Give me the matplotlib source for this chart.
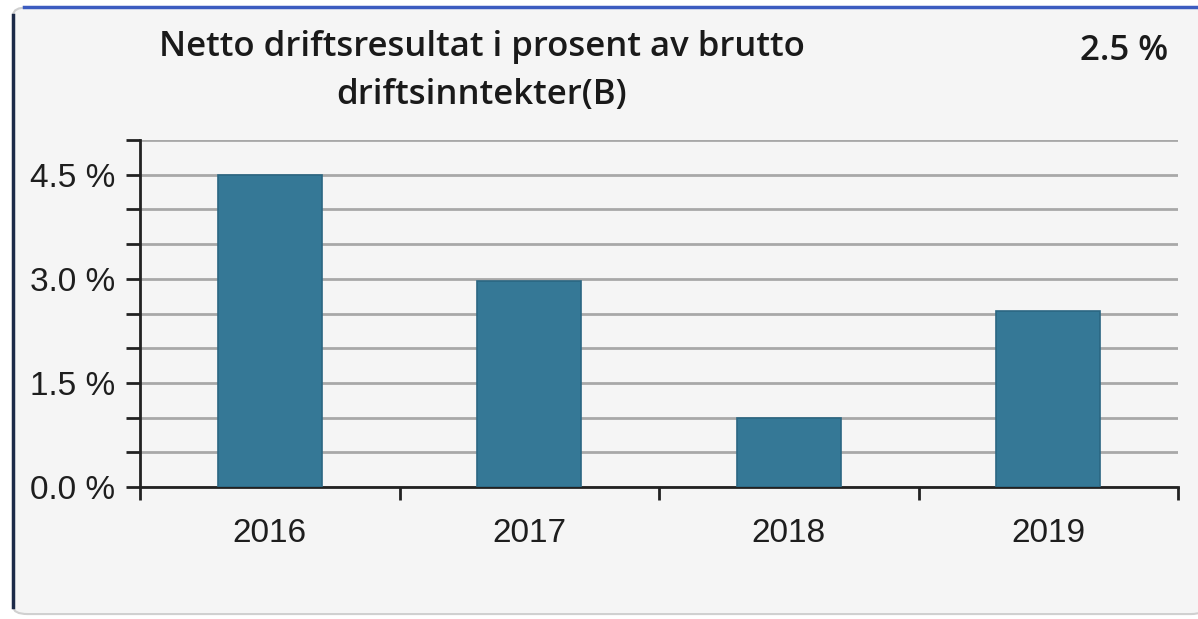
import matplotlib
matplotlib.use("Agg")
import matplotlib.pyplot as plt
from matplotlib.patches import FancyBboxPatch
from matplotlib.lines import Line2D
from matplotlib.ticker import MultipleLocator, FuncFormatter

years = ["2016", "2017", "2018", "2019"]
values = [4.5, 2.97, 0.99, 2.53]
title = "Netto driftsresultat i prosent av brutto\ndriftsinntekter(B)"
latest = "2.5 %"

BG = "#f5f5f5"
BAR = "#357896"

fig = plt.figure(figsize=(11.98, 6.19), dpi=100)
fig.patch.set_facecolor("white")
# panel with rounded corners; blue top edge, dark left edge
panel = FancyBboxPatch((0.011, 0.008), 0.995, 0.98, boxstyle="round,pad=0,rounding_size=0.012",
                       transform=fig.transFigure, facecolor=BG, edgecolor="#d0d0d0", lw=1.5,
                       zorder=-5)
fig.patches.append(panel)
fig.lines.append(Line2D([0.02, 1.0], [0.988, 0.988], transform=fig.transFigure,
                        color="#3c5cc0", lw=2.5, zorder=-4))
fig.lines.append(Line2D([0.011, 0.011], [0.02, 0.975], transform=fig.transFigure,
                        color="#1c2a48", lw=2.5, zorder=-4))

ax = fig.add_axes([0.1169, 0.2132, 0.8664, 0.5606])
ax.set_facecolor(BG)
x = range(len(years))
ax.bar(x, values, width=0.4, color=BAR, edgecolor="#2b6682", lw=1.2, zorder=3)
ax.set_xlim(-0.5, len(years) - 0.5)
ax.set_ylim(0, 5.0)

ax.yaxis.set_major_locator(MultipleLocator(1.5))
ax.yaxis.set_minor_locator(MultipleLocator(0.5))
ax.yaxis.set_major_formatter(FuncFormatter(lambda v, p: f"{v:.1f} %"))
ax.grid(axis="y", which="both", color="#a8a8a8", lw=2, zorder=1)
ax.set_axisbelow(True)

ax.set_xticks(list(x))
ax.set_xticklabels(years)
ax.set_xticks([i - 0.5 for i in range(len(years) + 1)], minor=True)
ax.tick_params(axis="x", which="major", length=0, pad=22, labelsize=24, labelcolor="#1e1e1e")
ax.tick_params(axis="x", which="minor", length=9, width=2, direction="out", color="#222222")
ax.tick_params(axis="y", which="both", length=10, width=2, direction="out", color="#222222",
               labelsize=24, labelcolor="#1e1e1e", pad=8)
for lab in ax.get_xticklabels() + ax.get_yticklabels():
    lab.set_fontfamily("Liberation Sans")

for s in ["top", "right"]:
    ax.spines[s].set_visible(False)
for s in ["left", "bottom"]:
    ax.spines[s].set_linewidth(2)
    ax.spines[s].set_color("#222222")

fig.text(0.402, 0.885, title, ha="center", va="center", fontsize=25, family="Open Sans",
         fontweight="semibold", color="#1a1a1a", linespacing=1.55)
fig.text(0.975, 0.917, latest, ha="right", va="center", fontsize=25, family="Open Sans",
         fontweight="semibold", color="#1a1a1a")

fig.savefig("out.png", dpi=100, facecolor="white")
